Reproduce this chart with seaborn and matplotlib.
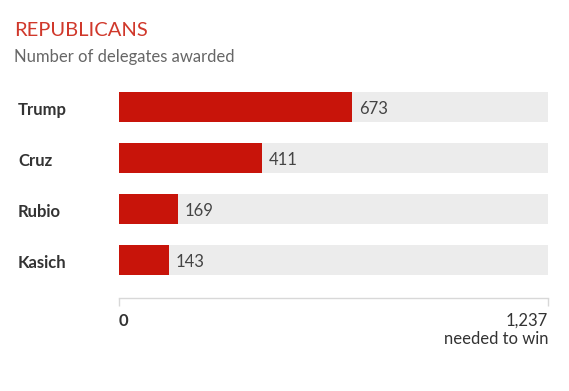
import matplotlib
matplotlib.use('Agg')
import matplotlib.pyplot as plt
import matplotlib.transforms as mtransforms
import seaborn as sns
import pandas as pd

sns.set_theme(style='white')
plt.rcParams['font.family'] = ['Lato', 'DejaVu Sans']

# ── Data ─────────────────────────────────────────────────────────────────────
candidates = ['Trump', 'Cruz', 'Rubio', 'Kasich']
delegates = [673, 411, 169, 143]
needed = 1237

df = pd.DataFrame({'candidate': candidates, 'delegates': delegates,
                   'needed': [needed] * len(candidates)})

RED = '#c8140a'
BG = '#ececec'

W, H = 569, 391
fig = plt.figure(figsize=(W / 100, H / 100), dpi=100)
fig.patch.set_facecolor('white')
ax = fig.add_axes([119 / W, (H - 298) / H, (548 - 119) / W, (298 - 81.5) / H])

sns.barplot(data=df, x='needed', y='candidate', color=BG, width=0.59,
            ax=ax, orient='h', saturation=1, linewidth=0)
sns.barplot(data=df, x='delegates', y='candidate', color=RED, width=0.59,
            ax=ax, orient='h', saturation=1, linewidth=0)

ax.set_xlim(0, needed)
ax.set_ylim(len(candidates) - 1 + 0.745, -0.5)
ax.set_xlabel('')
ax.set_ylabel('')
ax.set_yticks([])
ax.set_xticks([0, needed])
ax.set_xticklabels(['', ''])
ax.tick_params(axis='x', direction='out', length=6, width=1, color='#d8d8d8',
               bottom=True)
for s in ['top', 'left', 'right']:
    ax.spines[s].set_visible(False)
ax.spines['bottom'].set_color('#d8d8d8')
ax.spines['bottom'].set_linewidth(1)

# value labels
for i, v in enumerate(delegates):
    ax.text(v + 20, i + 0.03, f'{v}', va='center', ha='left', fontsize=12,
            color='#444444')

# candidate names
trans = mtransforms.blended_transform_factory(fig.transFigure, ax.transData)
for i, name in enumerate(candidates):
    ax.text(18 / W, i + 0.05, name, transform=trans, va='center', ha='left',
            fontsize=12, fontweight='bold', color='#333333')

# axis end labels
tx = mtransforms.blended_transform_factory(ax.transData, fig.transFigure)
ax.text(0, 1 - 321 / H, '0', transform=tx, ha='left', va='center',
        fontsize=12, fontweight='bold', color='#333333')
ax.text(needed, 1 - 321 / H, '1,237', transform=tx, ha='right', va='center',
        fontsize=12, color='#333333')
ax.text(needed, 1 - 339 / H, 'needed to win', transform=tx, ha='right',
        va='center', fontsize=12, color='#333333')

# titles
fig.text(14 / W, 1 - 30 / H, 'REPUBLICANS', ha='left', va='center',
         fontsize=14.5, color='#d0382b')
fig.text(14 / W, 1 - 57 / H, 'Number of delegates awarded', ha='left',
         va='center', fontsize=12, color='#666666')

fig.savefig('out.png', dpi=100, facecolor='white')
